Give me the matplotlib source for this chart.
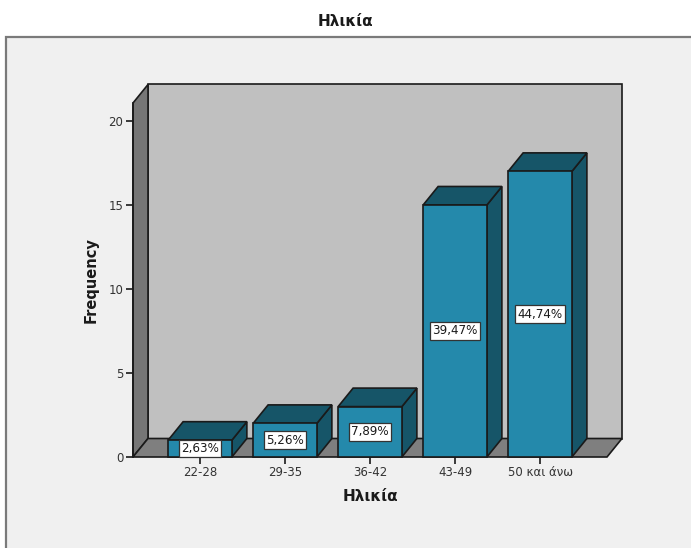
import matplotlib
matplotlib.use("Agg")
import matplotlib.pyplot as plt
from matplotlib.patches import Polygon, Rectangle

plt.rcParams['font.family'] = ['DejaVu Sans']

categories = ["22-28", "29-35", "36-42", "43-49", "50 και άνω"]
counts = [1, 2, 3, 15, 17]
percent_labels = ["2,63%", "5,26%", "7,89%", "39,47%", "44,74%"]
yticks = [0, 5, 10, 15, 20]

title = "Ηλικία"
xlabel = "Ηλικία"
ylabel = "Frequency"

W, H = 691, 548
fig = plt.figure(figsize=(W / 100, H / 100), dpi=100)
fig.patch.set_facecolor("white")

# outer light-grey chart panel
panel = Rectangle((6 / W, -0.01), 1.0, (H - 37) / H + 0.01, transform=fig.transFigure,
                  facecolor="#f0f0f0", edgecolor="#7a7a7a", linewidth=1.6, zorder=-10)
fig.patches.append(panel)

# front plane of the 3D frame
left_px, right_px, bottom_px, top_px = 133, 607, 457, 103
ax = fig.add_axes([left_px / W, (H - bottom_px) / H,
                   (right_px - left_px) / W, (bottom_px - top_px) / H])
ax.set_zorder(1)
ax.set_facecolor("none")
for s in ax.spines.values():
    s.set_visible(False)

xmin, xmax = -0.788, 4.788
ymin, ymax = 0.0, 21.07
ax.set_xlim(xmin, xmax)
ax.set_ylim(ymin, ymax)

# depth offset of the 3D extrusion, in data units
px_per_x = (right_px - left_px) / (xmax - xmin)
px_per_y = (bottom_px - top_px) / (ymax - ymin)
dx = 15 / px_per_x
dy = 18.5 / px_per_y

edge = "#1a1a1a"
lw = 1.2

# back wall
ax.add_patch(Polygon([(xmin + dx, dy), (xmax + dx, dy), (xmax + dx, ymax + dy),
                      (xmin + dx, ymax + dy)], closed=True, facecolor="#c0c0c0",
                     edgecolor=edge, linewidth=lw, clip_on=False, zorder=1))
# left wall
ax.add_patch(Polygon([(xmin, 0), (xmin + dx, dy), (xmin + dx, ymax + dy), (xmin, ymax)],
                     closed=True, facecolor="#767676", edgecolor=edge, linewidth=lw,
                     clip_on=False, zorder=1))
# floor
ax.add_patch(Polygon([(xmin, 0), (xmax, 0), (xmax + dx, dy), (xmin + dx, dy)],
                     closed=True, facecolor="#7f7f7f", edgecolor=edge, linewidth=lw,
                     clip_on=False, zorder=1))

front_c = "#2489ab"
dark_c = "#165568"
bw = 0.75
for i, (c, lab) in enumerate(zip(counts, percent_labels)):
    x0, x1 = i - bw / 2, i + bw / 2
    # right side
    ax.add_patch(Polygon([(x1, 0), (x1 + dx, dy), (x1 + dx, c + dy), (x1, c)], closed=True,
                         facecolor=dark_c, edgecolor=edge, linewidth=lw, clip_on=False, zorder=2))
    # top
    ax.add_patch(Polygon([(x0, c), (x1, c), (x1 + dx, c + dy), (x0 + dx, c + dy)], closed=True,
                         facecolor=dark_c, edgecolor=edge, linewidth=lw, clip_on=False, zorder=2))
    # front
    ax.add_patch(Rectangle((x0, 0), bw, c, facecolor=front_c, edgecolor=edge,
                           linewidth=lw, clip_on=False, zorder=3))
    ax.text(i, c / 2, lab, ha="center", va="center", fontsize=8.6, color="#1a1a1a", zorder=5,
            bbox=dict(boxstyle="square,pad=0.2", facecolor="white", edgecolor="#333333",
                      linewidth=0.9))

# front axis line
ax.plot([xmin, xmin], [0, ymax], color=edge, linewidth=lw, clip_on=False, zorder=4)

ax.set_xticks(range(len(categories)))
ax.set_xticklabels(categories)
ax.set_yticks(yticks)
ax.set_yticklabels([str(v) for v in yticks])
ax.tick_params(axis="both", colors="#1a1a1a", labelcolor="#333333", labelsize=8.5,
               length=5, width=1.2, direction="out")
ax.tick_params(axis="x", pad=1.5)
ax.tick_params(axis="y", pad=2)

ax.set_xlabel(xlabel, fontsize=11, fontweight="bold", color="#1a1a1a", labelpad=7)
ax.set_ylabel(ylabel, fontsize=10.5, fontweight="bold", color="#1a1a1a", labelpad=7)

fig.text(0.5, 1 - 21 / H, title, ha="center", va="center", fontsize=11,
         fontweight="bold", color="#1a1a1a")

fig.savefig("out.png", dpi=100)
